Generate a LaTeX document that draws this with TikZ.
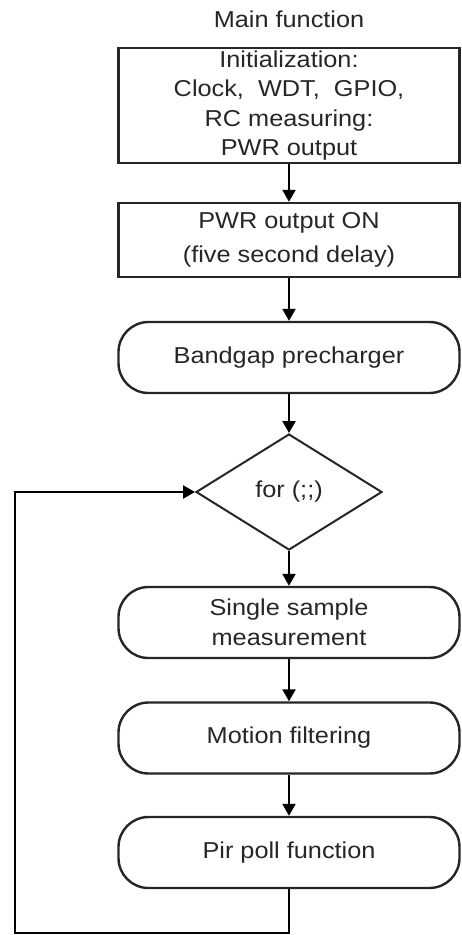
\documentclass[tikz,border=0pt]{standalone}
\usepackage{fontspec}
\setmainfont[FakeStretch=1.1]{Liberation Sans}
\usetikzlibrary{shapes.geometric,arrows.meta}
\begin{document}
\begin{tikzpicture}[x=1pt,y=-1pt,
  every node/.style={font=\fontsize{23}{29.5}\selectfont, text=black!85},
  boxr/.style={draw=black!85, line width=2.4pt, minimum width=341pt, inner sep=0pt, align=center},
  stad/.style={boxr, rounded corners=30pt, minimum height=71pt},
  dia/.style={draw=black!85, line width=2pt, diamond, aspect=1.6, minimum width=186pt, minimum height=116pt, inner sep=0pt},
  arr/.style={line width=2.4pt, -{Triangle[length=12pt,width=13pt]}}]
\useasboundingbox (0,0) rectangle (461,935);
\node (title) at (289,19) {Main function};
\node[boxr, minimum height=115pt] (init) at (289,105.5) {Initialization:\\Clock,\ \ WDT,\ \ GPIO,\\RC measuring:\\PWR output};
\node[boxr, minimum height=74pt] (pwr) at (289,240) {PWR output ON\\[4pt](five second delay)};
\node[stad] (band) at (289,357.5) {Bandgap precharger};
\node[dia] (loop) at (289,492) {for (;;)};
\node[stad] (single) at (289,622.5) {Single sample\\measurement};
\node[stad] (motion) at (289,738) {Motion filtering};
\node[stad] (pir) at (289,852.5) {Pir poll function};
\coordinate (lc) at (15,933);
\draw[arr] (init) -- (pwr);
\draw[arr] (pwr) -- (band);
\draw[arr] (band) -- (loop);
\draw[arr] (loop) -- (single);
\draw[arr] (single) -- (motion);
\draw[arr] (motion) -- (pir);
\draw[arr] (pir.south) |- (lc) |- (loop.west);
\end{tikzpicture}
\end{document}
